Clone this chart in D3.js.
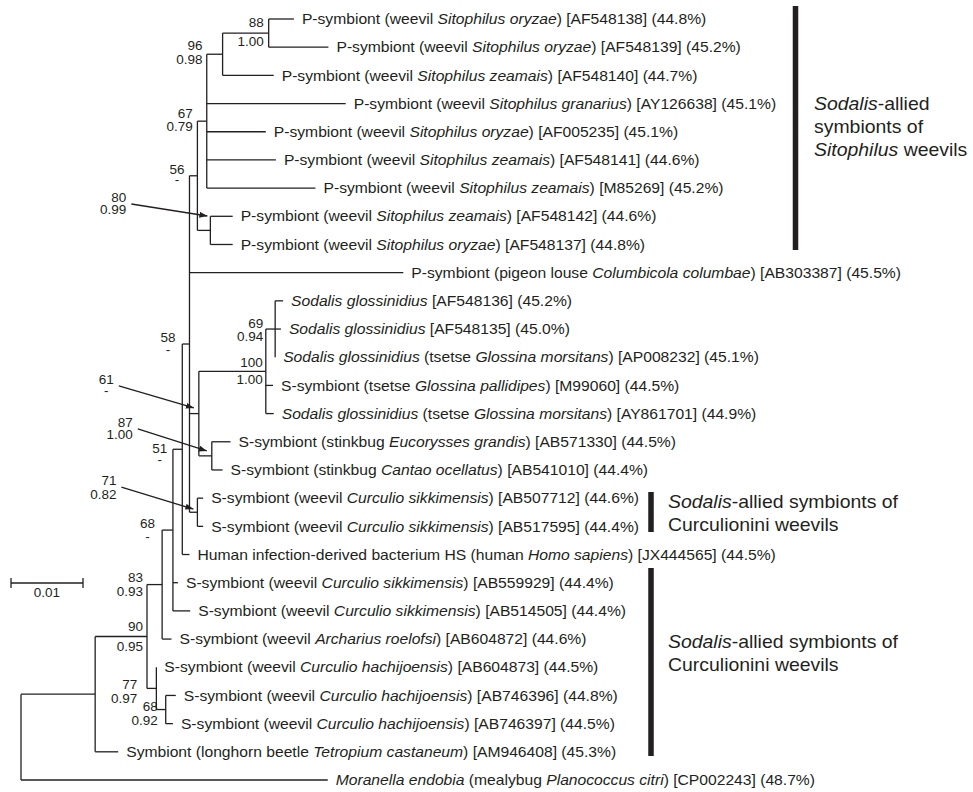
<!DOCTYPE html>
<html><head><meta charset="utf-8">
<script src="https://cdn.jsdelivr.net/npm/d3@7"></script>
<style>
body{margin:0;background:#fff}
text{font-family:"Liberation Sans",Arial,Helvetica,sans-serif;fill:#231f20;white-space:pre}
</style></head>
<body><svg id="chart" width="973" height="792"></svg>
<script>
// ---------------- DATA ----------------
// Tree edges: [node, parent, branch length (substitutions/site)], preorder
const edges = [
 ["root", null, 0],
 ["nA", "root", 0.0103],
 ["n90", "nA", 0.0072],
 ["n83", "n90", 0.0021],
 ["n68", "n83", 0.0015],
 ["n51", "n68", 0.0013],
 ["n58", "n51", 0.0010],
 ["n56", "n58", 0.0011],
 ["n67", "n56", 0.0013],
 ["n96", "n67", 0.0022],
 ["n88", "n96", 0.0064],
 ["L1", "n88", 0.0035],
 ["L2", "n88", 0.0083],
 ["L3", "n96", 0.0071],
 ["L4", "n67", 0.0193],
 ["L5", "n67", 0.0082],
 ["L6", "n67", 0.0096],
 ["L7", "n67", 0.0151],
 ["n80", "n56", 0.0018],
 ["L8", "n80", 0.0031],
 ["L9", "n80", 0.0031],
 ["L10", "n58", 0.0297],
 ["n61", "n58", 0.0013],
 ["n100", "n61", 0.0093],
 ["n69", "n100", 0.0013],
 ["L11", "n69", 0.0011],
 ["L12", "n69", 0.0008],
 ["L13", "n69", 0.0000],
 ["L14", "n100", 0.0010],
 ["L15", "n100", 0.0011],
 ["n87", "n61", 0.0018],
 ["L16", "n87", 0.0026],
 ["L17", "n87", 0.0015],
 ["n71", "n58", 0.0011],
 ["L18", "n71", 0.0008],
 ["L19", "n71", 0.0008],
 ["L20", "n51", 0.0010],
 ["L21", "n68", 0.0007],
 ["L22", "n68", 0.0024],
 ["L23", "n83", 0.0013],
 ["n77", "n90", 0.0013],
 ["L24", "n77", 0.0000],
 ["n68b", "n77", 0.0013],
 ["L25", "n68b", 0.0014],
 ["L26", "n68b", 0.0010],
 ["L27", "nA", 0.0032],
 ["L28", "root", 0.0426]
];

// Leaf labels (L1..L28), *...* = italic
const leafLabels = [
 "P-symbiont (weevil *Sitophilus oryzae*) [AF548138] (44.8%)",
 "P-symbiont (weevil *Sitophilus oryzae*) [AF548139] (45.2%)",
 "P-symbiont (weevil *Sitophilus zeamais*) [AF548140] (44.7%)",
 "P-symbiont (weevil *Sitophilus granarius*) [AY126638] (45.1%)",
 "P-symbiont (weevil *Sitophilus oryzae*) [AF005235] (45.1%)",
 "P-symbiont (weevil *Sitophilus zeamais*) [AF548141] (44.6%)",
 "P-symbiont (weevil *Sitophilus zeamais*) [M85269] (45.2%)",
 "P-symbiont (weevil *Sitophilus zeamais*) [AF548142] (44.6%)",
 "P-symbiont (weevil *Sitophilus oryzae*) [AF548137] (44.8%)",
 "P-symbiont (pigeon louse *Columbicola columbae*) [AB303387] (45.5%)",
 "*Sodalis glossinidius* [AF548136] (45.2%)",
 "*Sodalis glossinidius* [AF548135] (45.0%)",
 "*Sodalis glossinidius* (tsetse *Glossina morsitans*) [AP008232] (45.1%)",
 "S-symbiont (tsetse *Glossina pallidipes*) [M99060] (44.5%)",
 "*Sodalis glossinidius* (tsetse *Glossina morsitans*) [AY861701] (44.9%)",
 "S-symbiont (stinkbug *Eucorysses grandis*) [AB571330] (44.5%)",
 "S-symbiont (stinkbug *Cantao ocellatus*) [AB541010] (44.4%)",
 "S-symbiont (weevil *Curculio sikkimensis*) [AB507712] (44.6%)",
 "S-symbiont (weevil *Curculio sikkimensis*) [AB517595] (44.4%)",
 "Human infection-derived bacterium HS (human *Homo sapiens*) [JX444565] (44.5%)",
 "S-symbiont (weevil *Curculio sikkimensis*) [AB559929] (44.4%)",
 "S-symbiont (weevil *Curculio sikkimensis*) [AB514505] (44.4%)",
 "S-symbiont (weevil *Archarius roelofsi*) [AB604872] (44.6%)",
 "S-symbiont (weevil *Curculio hachijoensis*) [AB604873] (44.5%)",
 "S-symbiont (weevil *Curculio hachijoensis*) [AB746396] (44.8%)",
 "S-symbiont (weevil *Curculio hachijoensis*) [AB746397] (44.5%)",
 "Symbiont (longhorn beetle *Tetropium castaneum*) [AM946408] (45.3%)",
 "*Moranella endobia* (mealybug *Planococcus citri*) [CP002243] (48.7%)"
];

// Node support: bootstrap / posterior probability
const supportNodes = ["n88","n96","n67","n56","n80","n58","n61","n100","n69","n87","n71","n51","n68","n83","n90","n77","n68b"];
const bootstrapVals = ["88","96","67","56","80","58","61","100","69","87","71","51","68","83","90","77","68"];
const posteriorVals = ["1.00","0.98","0.79","-","0.99","-","-","1.00","0.94","1.00","0.82","-","-","0.93","0.95","0.97","0.92"];

// Clade annotations
const cladeLines = [
 ["*Sodalis*-allied", "symbionts of", "*Sitophilus* weevils"],
 ["*Sodalis*-allied symbionts of", "Curculionini weevils"],
 ["*Sodalis*-allied symbionts of", "Curculionini weevils"]
];
const scaleBarValue = 0.01;
const scaleBarLabel = "0.01";

// ---------------- LAYOUT ----------------
const SX = 1.08;           // horizontal glyph stretch of the original figure
const INK = "#231f20";
const svg = d3.select("#chart");
svg.append("rect").attr("width",973).attr("height",792).attr("fill","#fff");

const labelLayout = {
 n88:{dx:-5,t:-6,b:13}, n96:{dx:-20,t:-4,b:10}, n67:{dx:-14,t:-3,b:10},
 n56:{dx:-13,t:-2,b:8}, n58:{dx:-14,t:-2,b:9.5}, n100:{dx:-3,t:-4,b:13},
 n69:{dx:-12,t:-1,b:12}, n51:{dx:-15,t:4,b:15}, n68:{dx:-18,t:-2,b:10.5},
 n83:{dx:-19,t:-3,b:11}, n90:{dx:-4,t:-5.5,b:14.5}, n77:{dx:-19,t:0.5,b:14.5},
 n68b:{dx:-8,t:1.5,b:15.5},
 n80:{dx:-84,t:-28.4,b:-16.4,tip:[-3,-14.4]},
 n61:{dx:-85,t:-29.6,b:-18.1,tip:[-5,-5.6]},
 n87:{dx:-79,t:-28.9,b:-16.9,tip:[-5,-4.9]},
 n71:{dx:-81,t:-27.2,b:-13.2,tip:[-4,-3.2]}
};
const cladeLayout = [
 {bar:[795.5,6,250], tx:814, ty:[110,133,156]},
 {bar:[651,492,532], tx:668, ty:[508,531]},
 {bar:[651,568,756], tx:668, ty:[648,671]}
];

function richText(g, str, x, y, size, anchor){
  const t = g.append("text")
    .attr("transform",`translate(${x},${y}) scale(${SX},1)`)
    .attr("font-size",size).attr("text-anchor",anchor||"start");
  str.split("*").forEach((seg,i)=>{
    if(seg) t.append("tspan").attr("font-style", i%2 ? "italic":"normal").text(seg);
  });
  return t;
}

// hierarchy
const root = d3.stratify().id(d=>d[0]).parentId(d=>d[1])(edges);
root.eachBefore(n=>{ n.len = n.parent ? n.parent.len + n.data[2] : 0; });
const leaves = root.leaves();
const x = d3.scaleLinear().domain([0, 0.01]).range([21, 93]);
const y = d3.scaleLinear().domain([0, leaves.length-1]).range([19, 780]);
leaves.forEach((l,i)=>{ l.py = y(i); });
root.eachAfter(n=>{ if(n.children) n.py = (n.children[0].py + n.children[n.children.length-1].py)/2; });
root.each(n=>{ n.px = x(n.len); });

const gTree = svg.append("g").attr("stroke",INK).attr("stroke-width",1.3).attr("fill","none");
root.descendants().forEach(n=>{
  if(n.parent && n.px > n.parent.px)
    gTree.append("line").attr("x1",n.parent.px).attr("x2",n.px).attr("y1",n.py).attr("y2",n.py);
  if(n.children)
    gTree.append("line").attr("x1",n.px).attr("x2",n.px)
      .attr("y1",n.children[0].py).attr("y2",n.children[n.children.length-1].py);
});

// leaf labels
const gLab = svg.append("g");
leaves.forEach(l=>{
  const idx = +l.id.slice(1) - 1;
  richText(gLab, leafLabels[idx], l.px + 8, l.py + 5.2, 14.5);
});

// arrowhead
svg.append("defs").append("marker").attr("id","ah")
  .attr("markerUnits","userSpaceOnUse").attr("markerWidth",9).attr("markerHeight",7)
  .attr("refX",8).attr("refY",3).attr("orient","auto")
  .append("path").attr("d","M0,0 L8,3 L0,6 Z").attr("fill",INK);

// support values
const gSup = svg.append("g");
const byId = new Map(root.descendants().map(n=>[n.id,n]));
supportNodes.forEach((id,i)=>{
  const n = byId.get(id), L = labelLayout[id];
  const right = n.px + L.dx;
  const top = richText(gSup, bootstrapVals[i], right, n.py + L.t, 12.5, "end");
  if(posteriorVals[i] === "-"){
    const w = top.node().getComputedTextLength()*SX;
    richText(gSup, "-", right - w/2, n.py + L.b, 12.5, "middle");
  } else {
    richText(gSup, posteriorVals[i], right, n.py + L.b, 12.5, "end");
  }
  if(L.tip){
    gSup.append("line").attr("x1",right+5).attr("y1",n.py+L.t+2)
      .attr("x2",n.px+L.tip[0]).attr("y2",n.py+L.tip[1])
      .attr("stroke",INK).attr("stroke-width",1.3).attr("marker-end","url(#ah)");
  }
});

// clade bars & text
const gClade = svg.append("g");
cladeLayout.forEach((c,i)=>{
  gClade.append("line").attr("x1",c.bar[0]).attr("x2",c.bar[0]).attr("y1",c.bar[1]).attr("y2",c.bar[2])
    .attr("stroke",INK).attr("stroke-width",5.5);
  cladeLines[i].forEach((s,j)=> richText(gClade, s, c.tx, c.ty[j], 18));
});

// scale bar
const sb = svg.append("g").attr("stroke",INK).attr("stroke-width",1.3);
const sbX0 = 11, sbX1 = sbX0 + (x(scaleBarValue) - x(0)), sbY = 583;
sb.append("line").attr("x1",sbX0).attr("x2",sbX1).attr("y1",sbY).attr("y2",sbY);
sb.append("line").attr("x1",sbX0).attr("x2",sbX0).attr("y1",sbY-5).attr("y2",sbY+5);
sb.append("line").attr("x1",sbX1).attr("x2",sbX1).attr("y1",sbY-5).attr("y2",sbY+5);
richText(svg, scaleBarLabel, (sbX0+sbX1)/2, sbY+14, 12.5, "middle");
</script></body></html>
